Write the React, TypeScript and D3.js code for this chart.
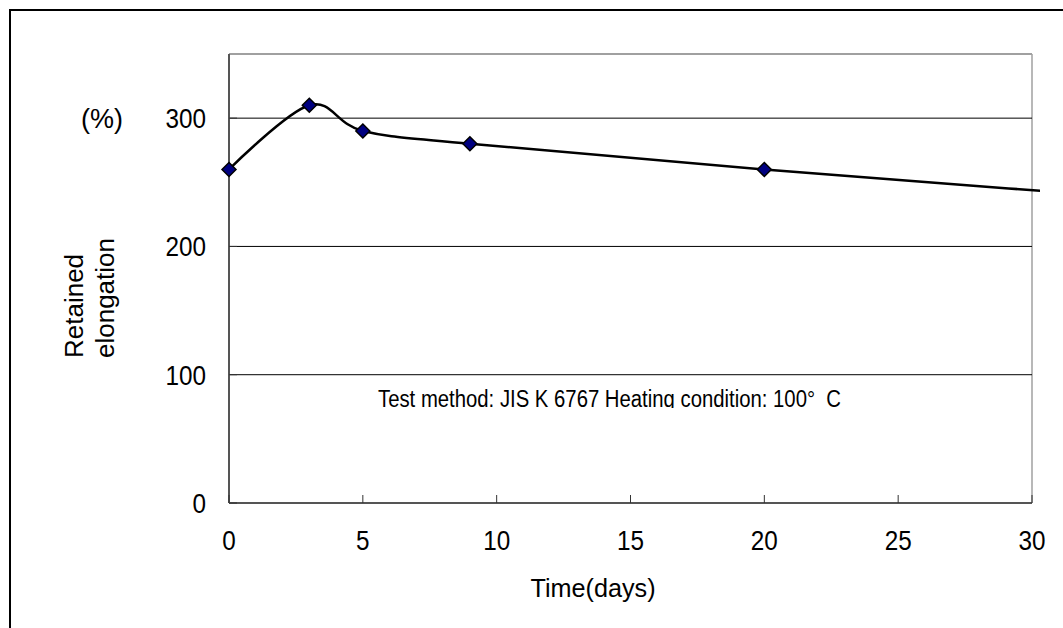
import React from "react";
import * as d3 from "d3";

const days = [0, 3, 5, 9, 20, 40];
const elongation = [260, 310, 290, 280, 260, 228];
const markerDays = [0, 3, 5, 9, 20];
const xTicks = [0, 5, 10, 15, 20, 25, 30];
const yTicks = [0, 100, 200, 300];
const gridValues = [100, 200, 300];
const annotation = "Test method: JIS K 6767 Heating condition: 100°\u00a0 C";

const W = 1063;
const H = 628;
const m = { left: 229, top: 54, right: 1032, bottom: 503 };
const FONT = "'Liberation Sans', Arial, sans-serif";

function Txt(props: { x: number; y: number; size: number; sx?: number; anchor?: string; children: React.ReactNode }) {
  const { x, y, size, sx = 0.9, anchor = "middle", children } = props;
  return (
    <text
      transform={`translate(${x},${y}) scale(${sx},1)`}
      textAnchor={anchor}
      fontFamily={FONT}
      fontSize={size}
      fill="#000"
    >
      {children}
    </text>
  );
}

export default function App() {
  const x = d3.scaleLinear().domain([0, 30]).range([m.left, m.right]);
  const y = d3.scaleLinear().domain([0, 350]).range([m.bottom, m.top]);
  const pts = days.map((d, i) => [d, elongation[i]] as [number, number]);
  const line = d3
    .line<[number, number]>()
    .x((d) => x(d[0]))
    .y((d) => y(d[1]))
    .curve(d3.curveCatmullRom.alpha(0));
  const s = 7;
  return (
    <svg width={W} height={H} style={{ position: "absolute", left: 0, top: 0 }}>
      <rect x={0} y={0} width={W} height={H} fill="#fff" />
      <rect x={10} y={10} width={W + 20} height={H + 20} fill="none" stroke="#000" strokeWidth={2} />
      <defs>
        <clipPath id="pc">
          <rect x={m.left - 10} y={m.top - 10} width={m.right - m.left + 18} height={m.bottom - m.top + 20} />
        </clipPath>
        <clipPath id="ac">
          <rect x={0} y={0} width={W} height={408} />
        </clipPath>
      </defs>
      <line x1={m.left} x2={m.right} y1={m.top} y2={m.top} stroke="#808080" strokeWidth={1.5} />
      <line x1={m.right} x2={m.right} y1={m.top} y2={m.bottom} stroke="#a0a0a0" strokeWidth={1.5} />
      {gridValues.map((v) => (
        <line key={v} x1={m.left} x2={m.right} y1={y(v)} y2={y(v)} stroke="#000" strokeWidth={1} />
      ))}
      <line x1={m.left} x2={m.left} y1={m.top} y2={m.bottom} stroke="#555" strokeWidth={2} />
      <line x1={m.left} x2={m.right} y1={m.bottom} y2={m.bottom} stroke="#555" strokeWidth={2} />
      {xTicks.map((t) => (
        <g key={t}>
          <line x1={x(t)} x2={x(t)} y1={m.bottom} y2={m.bottom - 8} stroke="#333" strokeWidth={1} />
          <Txt x={x(t)} y={m.bottom + 47} size={27}>
            {t}
          </Txt>
        </g>
      ))}
      {yTicks.map((t) => (
        <g key={t}>
          <line x1={m.left} x2={m.left + 8} y1={y(t)} y2={y(t)} stroke="#333" strokeWidth={1} />
          <Txt x={m.left - 23} y={y(t) + 10} size={27} anchor="end">
            {t}
          </Txt>
        </g>
      ))}
      <Txt x={102} y={128} size={27} sx={1}>(%)</Txt>
      <g transform="translate(0,358) rotate(-90)" fontFamily={FONT} fontSize={26}>
        <text x={0} y={83} textAnchor="start">Retained</text>
        <text x={0} y={114} textAnchor="start">elongation</text>
      </g>
      <Txt x={593} y={597} size={26} sx={0.97}>Time(days)</Txt>
      <g clipPath="url(#ac)">
        <text x={378} y={407} fontFamily={FONT} fontSize={23} textLength={463} lengthAdjust="spacingAndGlyphs">
          {annotation}
        </text>
      </g>
      <path d={line(pts) || ""} fill="none" stroke="#000" strokeWidth={2.5} clipPath="url(#pc)" />
      {markerDays.map((d) => {
        const i = days.indexOf(d);
        const cx = x(d);
        const cy = y(elongation[i]);
        return (
          <path
            key={d}
            d={`M${cx},${cy - s}L${cx + s},${cy}L${cx},${cy + s}L${cx - s},${cy}Z`}
            fill="#000080"
            stroke="#000"
            strokeWidth={1.5}
          />
        );
      })}
    </svg>
  );
}
